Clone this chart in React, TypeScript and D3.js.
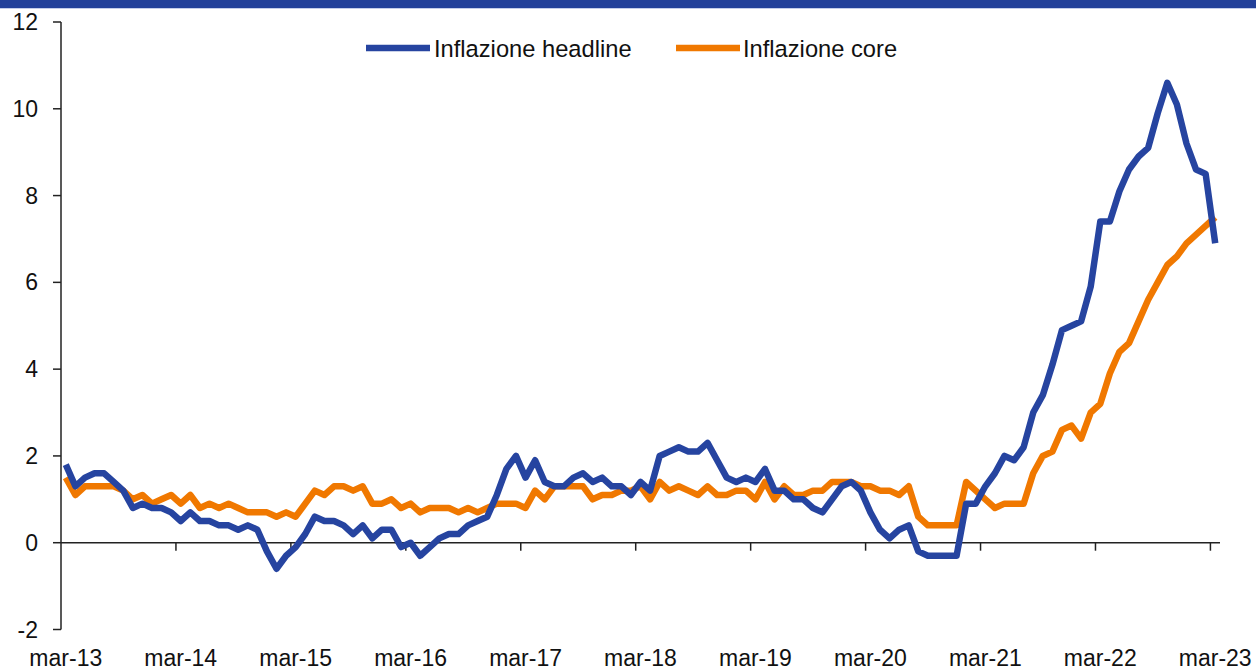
import * as d3 from "d3";

// monthly, mar-13 .. mar-23 (121 points)
const headline = [
  1.8, 1.3, 1.5, 1.6, 1.6, 1.4, 1.2, 0.8, 0.9, 0.8, 0.8, 0.7,
  0.5, 0.7, 0.5, 0.5, 0.4, 0.4, 0.3, 0.4, 0.3, -0.2, -0.6, -0.3,
  -0.1, 0.2, 0.6, 0.5, 0.5, 0.4, 0.2, 0.4, 0.1, 0.3, 0.3, -0.1,
  0.0, -0.3, -0.1, 0.1, 0.2, 0.2, 0.4, 0.5, 0.6, 1.1, 1.7, 2.0,
  1.5, 1.9, 1.4, 1.3, 1.3, 1.5, 1.6, 1.4, 1.5, 1.3, 1.3, 1.1,
  1.4, 1.2, 2.0, 2.1, 2.2, 2.1, 2.1, 2.3, 1.9, 1.5, 1.4, 1.5,
  1.4, 1.7, 1.2, 1.2, 1.0, 1.0, 0.8, 0.7, 1.0, 1.3, 1.4, 1.2,
  0.7, 0.3, 0.1, 0.3, 0.4, -0.2, -0.3, -0.3, -0.3, -0.3, 0.9, 0.9,
  1.3, 1.6, 2.0, 1.9, 2.2, 3.0, 3.4, 4.1, 4.9, 5.0, 5.1, 5.9,
  7.4, 7.4, 8.1, 8.6, 8.9, 9.1, 9.9, 10.6, 10.1, 9.2, 8.6, 8.5,
  6.9,
];

const core = [
  1.5, 1.1, 1.3, 1.3, 1.3, 1.3, 1.2, 1.0, 1.1, 0.9, 1.0, 1.1,
  0.9, 1.1, 0.8, 0.9, 0.8, 0.9, 0.8, 0.7, 0.7, 0.7, 0.6, 0.7,
  0.6, 0.9, 1.2, 1.1, 1.3, 1.3, 1.2, 1.3, 0.9, 0.9, 1.0, 0.8,
  0.9, 0.7, 0.8, 0.8, 0.8, 0.7, 0.8, 0.7, 0.8, 0.9, 0.9, 0.9,
  0.8, 1.2, 1.0, 1.3, 1.3, 1.3, 1.3, 1.0, 1.1, 1.1, 1.2, 1.2,
  1.3, 1.0, 1.4, 1.2, 1.3, 1.2, 1.1, 1.3, 1.1, 1.1, 1.2, 1.2,
  1.0, 1.4, 1.0, 1.3, 1.1, 1.1, 1.2, 1.2, 1.4, 1.4, 1.4, 1.3,
  1.3, 1.2, 1.2, 1.1, 1.3, 0.6, 0.4, 0.4, 0.4, 0.4, 1.4, 1.2,
  1.0, 0.8, 0.9, 0.9, 0.9, 1.6, 2.0, 2.1, 2.6, 2.7, 2.4, 3.0,
  3.2, 3.9, 4.4, 4.6, 5.1, 5.6, 6.0, 6.4, 6.6, 6.9, 7.1, 7.3,
  7.5,
];

const yearLabels = [
  "mar-13", "mar-14", "mar-15", "mar-16", "mar-17", "mar-18",
  "mar-19", "mar-20", "mar-21", "mar-22", "mar-23",
];
const yTicks = [-2, 0, 2, 4, 6, 8, 10, 12];

const BLUE = "#2644a0";
const ORANGE = "#f07800";
const FONT = "'Liberation Sans', Arial, sans-serif";

export default function App() {
  const width = 1256;
  const height = 670;

  // category axis: each month is a band, points at band centres
  const x = d3.scaleLinear([-0.5, headline.length - 0.5], [61, 1220]);
  const y = d3.scaleLinear([-2, 12], [629.5, 22]);

  const line = d3
    .line<number>()
    .x((d, i) => x(i))
    .y((d) => y(d));

  return (
    <svg
      width={width}
      height={height}
      style={{ position: "absolute", left: 0, top: 0, background: "#fff" }}
      fontFamily={FONT}
    >
      {/* top band */}
      <rect x={0} y={0} width={width} height={8} fill="#22409a" />
      <line x1={0} x2={width} y1={8.5} y2={8.5} stroke="#c3cdea" />

      {/* Y axis */}
      <line x1={61} x2={61} y1={y(12)} y2={y(-2)} stroke="#222" strokeWidth={1.5} />
      {yTicks.map((t) => (
        <g key={t}>
          <line x1={53} x2={61} y1={y(t)} y2={y(t)} stroke="#222" strokeWidth={1.5} />
          <text x={38} y={y(t)} dy="0.35em" textAnchor="end" fontSize={23} fill="#111">
            {t}
          </text>
        </g>
      ))}

      {/* X axis at zero */}
      <line x1={61} x2={1220} y1={y(0)} y2={y(0)} stroke="#222" strokeWidth={1.5} />
      {yearLabels.map((lab, k) => (
        <g key={lab}>
          {k > 0 && (
            <line
              x1={x(k * 12 - 0.5)}
              x2={x(k * 12 - 0.5)}
              y1={y(0)}
              y2={y(0) + 8}
              stroke="#222"
              strokeWidth={1.5}
            />
          )}
          <text x={x(k * 12)} y={666} textAnchor="middle" fontSize={23} fill="#111">
            {lab}
          </text>
        </g>
      ))}

      {/* series */}
      <path d={line(core) ?? ""} fill="none" stroke={ORANGE} strokeWidth={6.5} strokeLinejoin="round" />
      <path d={line(headline) ?? ""} fill="none" stroke={BLUE} strokeWidth={6.5} strokeLinejoin="round" />

      {/* legend */}
      <line x1={366} x2={430} y1={48} y2={48} stroke={BLUE} strokeWidth={6.5} />
      <text x={434} y={57} fontSize={23.7} fill="#111">Inflazione headline</text>
      <line x1={676} x2={740} y1={48} y2={48} stroke={ORANGE} strokeWidth={6.5} />
      <text x={743} y={57} fontSize={23.7} fill="#111">Inflazione core</text>
    </svg>
  );
}
